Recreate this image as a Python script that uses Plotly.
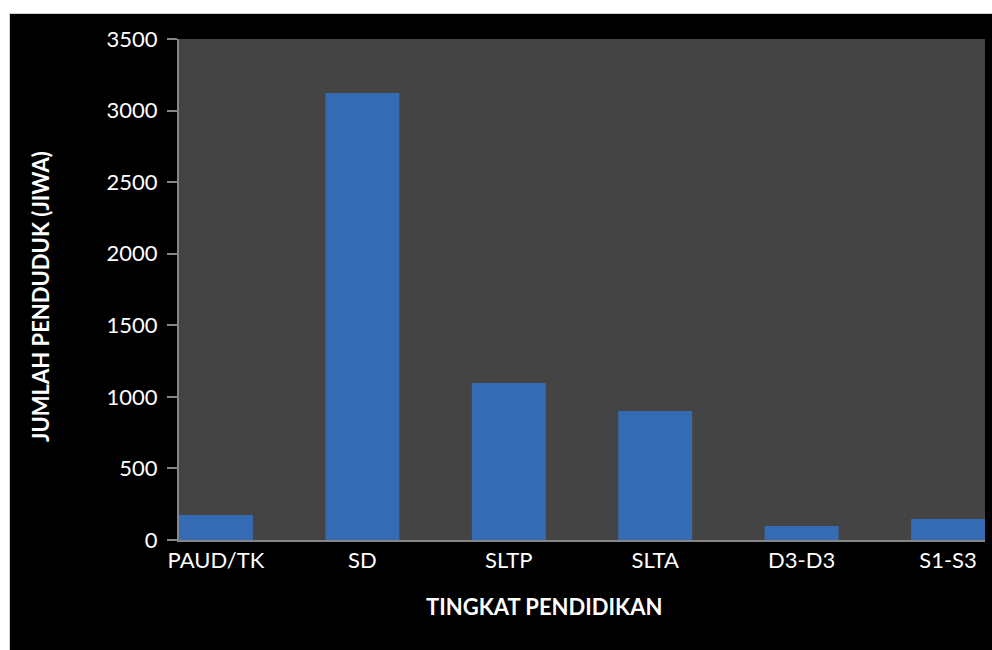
import plotly.graph_objects as go

categories = ["PAUD/TK", "SD", "SLTP", "SLTA", "D3-D3", "S1-S3"]
jumlah = [175, 3123, 1097, 901, 98, 147]
y_ticks = [0, 500, 1000, 1500, 2000, 2500, 3000, 3500]

W, H = 992, 650
ml, mr, mt, mb = 179, 7, 39, 110
pw, ph = W - ml - mr, H - mt - mb

def px_x(x):
    return (x - ml) / pw

def px_y(y):
    return (H - mb - y) / ph

fig = go.Figure(
    go.Bar(
        x=categories,
        y=jumlah,
        width=0.505,
        marker=dict(color="#356bb2", line=dict(width=0)),
    )
)

fig.update_layout(
    width=W,
    height=H,
    margin=dict(l=ml, r=mr, t=mt, b=mb, pad=0),
    paper_bgcolor="white",
    plot_bgcolor="#444444",
    font=dict(family="Lato, Carlito, sans-serif", color="white", size=22),
    showlegend=False,
    shapes=[
        dict(type="rect", xref="paper", yref="paper", layer="below",
             x0=px_x(9.5), x1=px_x(W + 5), y0=px_y(13.5), y1=px_y(H + 5),
             fillcolor="black", line=dict(color="#d0d0d0", width=1)),
        dict(type="rect", xref="paper", yref="paper", layer="below",
             x0=0, x1=1, y0=0, y1=1,
             fillcolor="#444444", line=dict(width=0)),
    ],
    annotations=[
        dict(text="<b>TINGKAT PENDIDIKAN</b>", xref="paper", yref="paper",
             x=px_x(544), y=px_y(606), xanchor="center", yanchor="middle",
             showarrow=False, font=dict(size=22, color="white")),
        dict(text="<b>JUMLAH PENDUDUK (JIWA)</b>", xref="paper", yref="paper",
             x=px_x(40), y=px_y(297), xanchor="center", yanchor="middle",
             textangle=-90, showarrow=False, font=dict(size=22, color="white")),
    ],
)

fig.update_xaxes(
    type="category",
    range=[-0.2525, 5.2525],
    showline=True, linecolor="#868686", linewidth=2,
    ticks="", showgrid=False,
    tickfont=dict(size=22, color="white"),
)
fig.update_yaxes(
    range=[0, 3500],
    tickvals=y_ticks,
    showline=True, linecolor="#868686", linewidth=2,
    ticks="outside", ticklen=10, tickwidth=2, tickcolor="#868686",
    ticklabelstandoff=5,
    showgrid=False, zeroline=False,
    tickfont=dict(size=22, color="white"),
)

fig.write_html(
    "out.html",
    config={"displayModeBar": False},
    post_script="document.body.style.margin='0';document.body.style.overflow='hidden';",
)
